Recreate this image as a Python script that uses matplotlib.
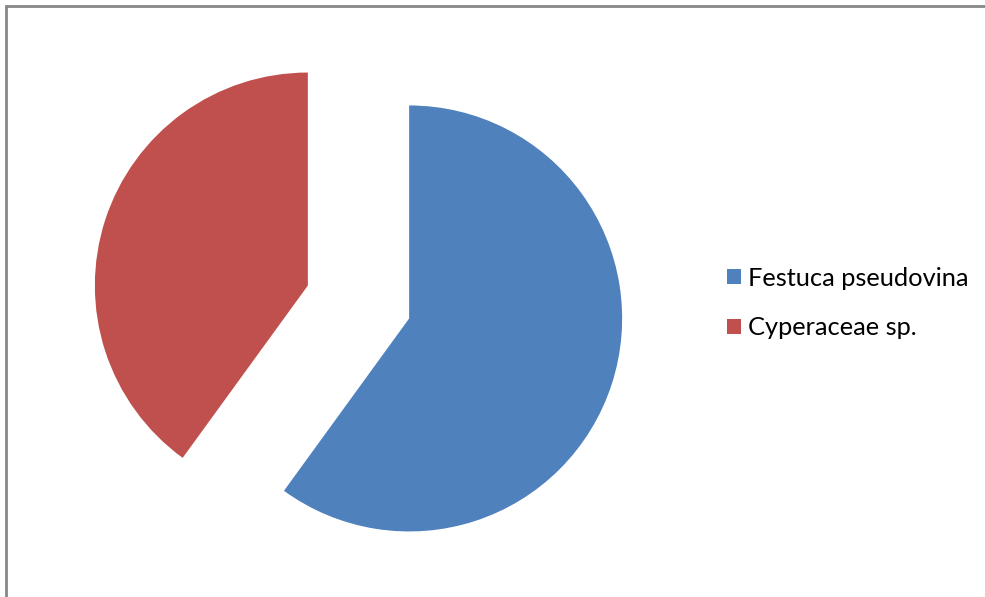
import matplotlib
matplotlib.use("Agg")
import matplotlib.pyplot as plt
from matplotlib.patches import Rectangle

labels = ["Festuca pseudovina", "Cyperaceae sp."]
values = [60, 40]
colors = ["#4F81BD", "#C0504D"]
explode = [0.25, 0.25]

W, H, DPI = 985, 597, 100
fig = plt.figure(figsize=(W / DPI, H / DPI), dpi=DPI)
ax = fig.add_axes([0, 0, 1, 1])

R = 213.0  # px per data unit
cx, cy = 358.5, H - 302.0
wedges, _ = ax.pie(values, colors=colors, explode=explode, startangle=90,
                   counterclock=False, radius=1.0,
                   wedgeprops=dict(linewidth=0))
ax.set_aspect("auto")
ax.set_xlim(-cx / R, (W - cx) / R)
ax.set_ylim(-cy / R, (H - cy) / R)
ax.axis("off")

# border (top and left visible)
fig.add_artist(Rectangle((6 / W, -0.1), 1.2, (H - 6) / H + 0.1, transform=fig.transFigure,
                         fill=False, edgecolor="#878787", linewidth=2))

leg = fig.legend(wedges, labels, loc="center left",
                 bbox_to_anchor=(727 / W, 1 - 303 / H), frameon=False,
                 prop=dict(family="Lato", size=18.3), handlelength=0.56,
                 handleheight=0.56, handletextpad=0.25, labelspacing=1.05,
                 borderpad=0, borderaxespad=0)

fig.savefig("out.png", dpi=DPI)
